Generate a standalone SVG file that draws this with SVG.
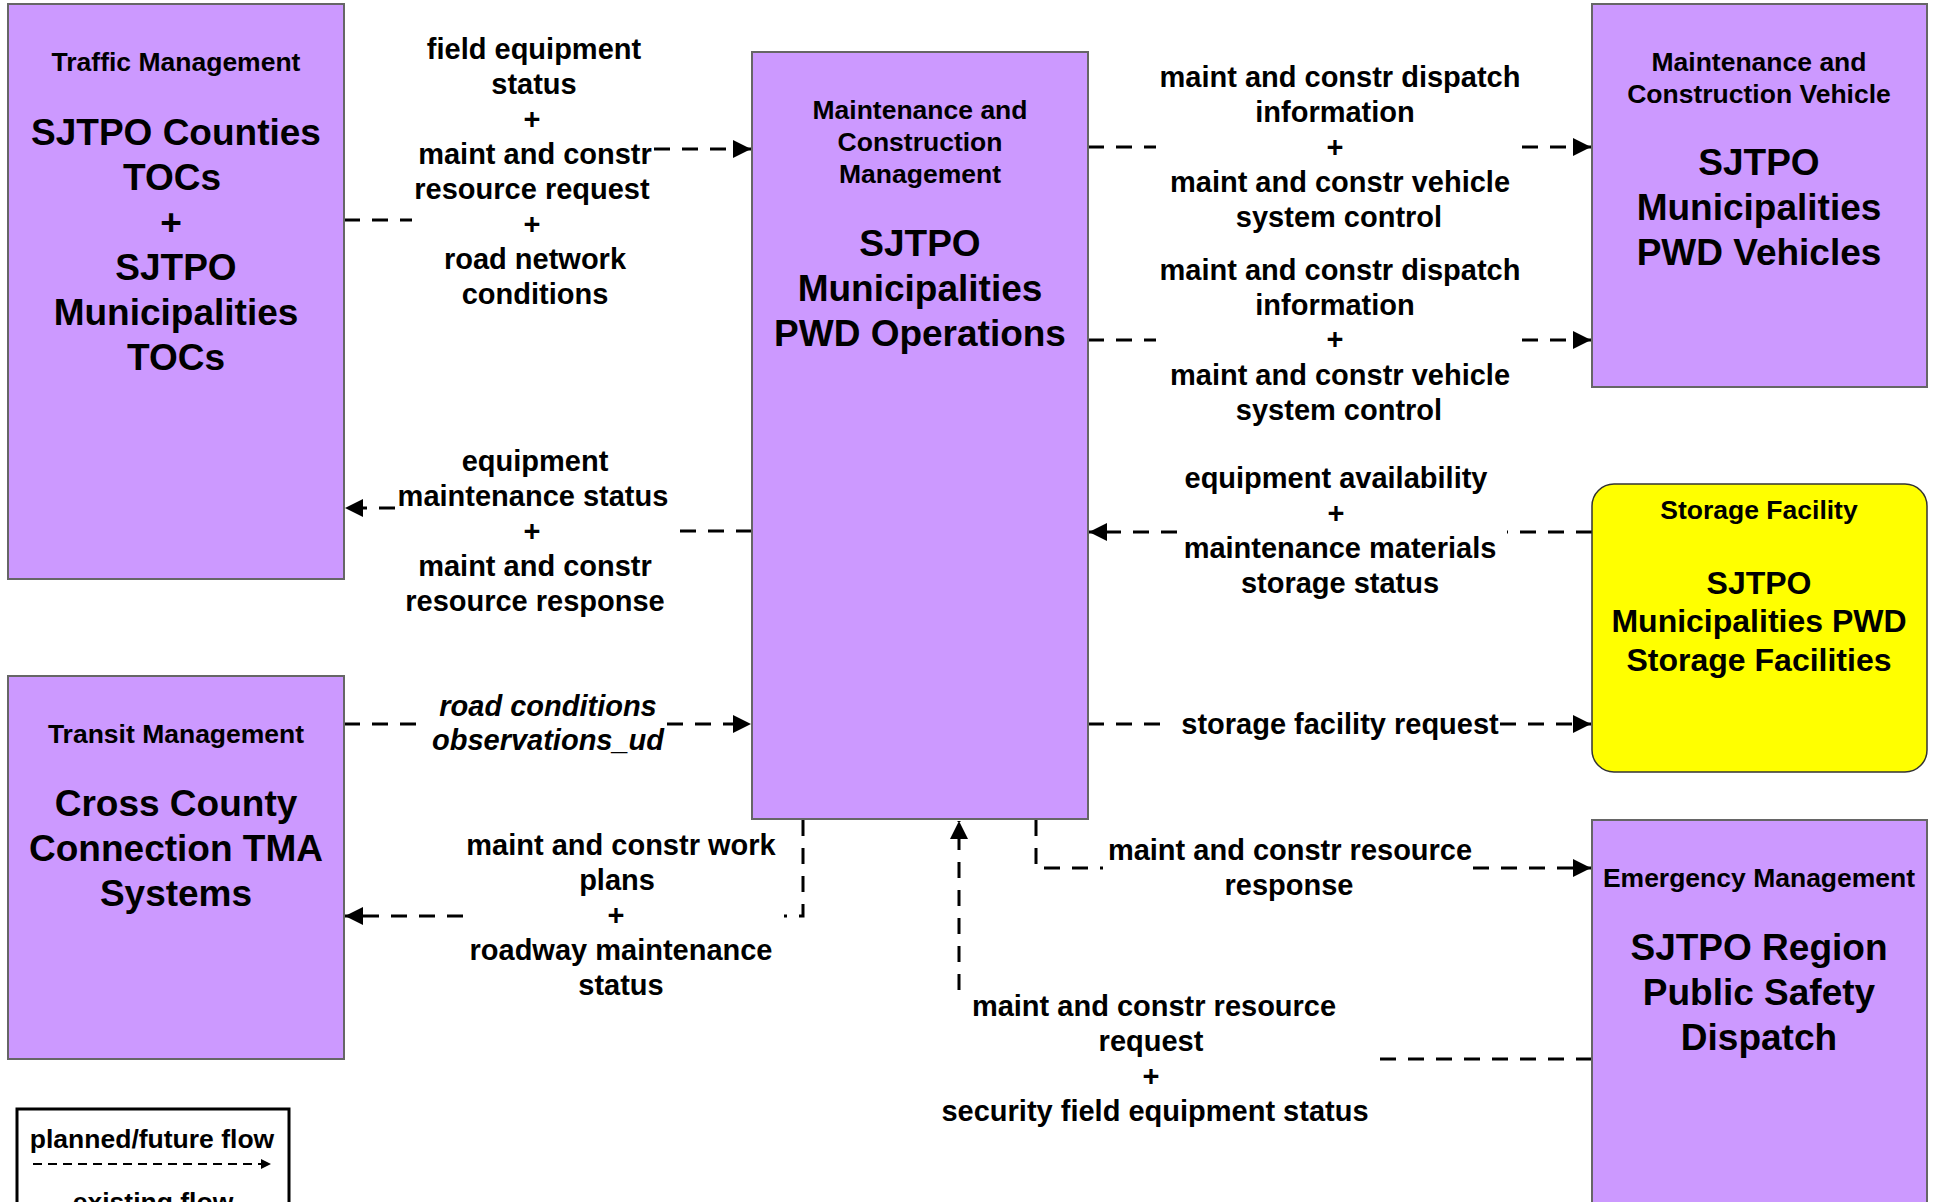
<svg xmlns="http://www.w3.org/2000/svg" width="1937" height="1202" viewBox="0 0 1937 1202">
<style>
.node{fill:#CC99FF;stroke:#666666;stroke-width:2}
.storage{fill:#FFFF00;stroke:#333333;stroke-width:1.5}
.t{font-family:"Liberation Sans",Arial,sans-serif;font-weight:bold;text-anchor:middle;fill:#000}
.sub{font-size:26.5px}
.big{font-size:37px}
.mid{font-size:32px}
.lbl{font-size:29px}
.it{font-style:italic}
.flow{fill:none;stroke:#000;stroke-width:3;stroke-dasharray:16 12}
.legflow{fill:none;stroke:#000;stroke-width:2;stroke-dasharray:9 6}
</style>
<defs>
<marker id="arr" markerUnits="userSpaceOnUse" markerWidth="18" markerHeight="18" refX="18" refY="9" orient="auto">
<path d="M0,0 L18,9 L0,18 Z" fill="#000"/>
</marker>
<marker id="sarr" markerUnits="userSpaceOnUse" markerWidth="10" markerHeight="10" refX="10" refY="5" orient="auto">
<path d="M0,0 L10,5 L0,10 Z" fill="#000"/>
</marker>
</defs>
<rect width="1937" height="1202" fill="#fff"/>

<g id="connectors">
<path class="flow" marker-end="url(#arr)" d="M344,220 H412 M654,149 H751"/>
<path class="flow" marker-end="url(#arr)" d="M752,531 H676 M395,508 H345"/>
<path class="flow" marker-end="url(#arr)" d="M1088,147 H1156 M1522,147 H1591"/>
<path class="flow" marker-end="url(#arr)" d="M1088,340 H1156 M1522,340 H1591"/>
<path class="flow" marker-end="url(#arr)" d="M1592,532 H1507 M1177,532 H1089"/>
<path class="flow" marker-end="url(#arr)" d="M1088,724 H1171 M1500,724 H1591"/>
<path class="flow" marker-end="url(#arr)" d="M344,724 H427 M667,724 H751"/>
<path class="flow" marker-end="url(#arr)" d="M803,820 V916 H784 M463,916 H345"/>
<path class="flow" marker-end="url(#arr)" d="M1036,820 V868 H1103 M1473,868 H1591"/>
<path class="flow" marker-end="url(#arr)" d="M1592,1059 H1380 M959,990 V821"/>
</g>

<g id="labels">
<text class="t lbl" x="534" y="59">field equipment</text>
<text class="t lbl" x="534" y="94">status</text>
<text class="t lbl" x="532" y="129">+</text>
<text class="t lbl" x="535" y="164">maint and constr</text>
<text class="t lbl" x="532" y="199">resource request</text>
<text class="t lbl" x="532" y="234">+</text>
<text class="t lbl" x="535" y="269">road network</text>
<text class="t lbl" x="535" y="304">conditions</text>

<text class="t lbl" x="535" y="471">equipment</text>
<text class="t lbl" x="533" y="506">maintenance status</text>
<text class="t lbl" x="532" y="541">+</text>
<text class="t lbl" x="535" y="576">maint and constr</text>
<text class="t lbl" x="535" y="611">resource response</text>

<text class="t lbl" x="1340" y="87">maint and constr dispatch</text>
<text class="t lbl" x="1335" y="122">information</text>
<text class="t lbl" x="1335" y="157">+</text>
<text class="t lbl" x="1340" y="192">maint and constr vehicle</text>
<text class="t lbl" x="1339" y="227">system control</text>

<text class="t lbl" x="1340" y="280">maint and constr dispatch</text>
<text class="t lbl" x="1335" y="315">information</text>
<text class="t lbl" x="1335" y="349">+</text>
<text class="t lbl" x="1340" y="385">maint and constr vehicle</text>
<text class="t lbl" x="1339" y="420">system control</text>

<text class="t lbl" x="1336" y="488">equipment availability</text>
<text class="t lbl" x="1336" y="523">+</text>
<text class="t lbl" x="1340" y="558">maintenance materials</text>
<text class="t lbl" x="1340" y="593">storage status</text>

<text class="t lbl" x="1340" y="734">storage facility request</text>

<text class="t lbl it" x="548" y="716">road conditions</text>
<text class="t lbl it" x="548" y="750">observations_ud</text>

<text class="t lbl" x="621" y="855">maint and constr work</text>
<text class="t lbl" x="617" y="890">plans</text>
<text class="t lbl" x="616" y="925">+</text>
<text class="t lbl" x="621" y="960">roadway maintenance</text>
<text class="t lbl" x="621" y="995">status</text>

<text class="t lbl" x="1290" y="860">maint and constr resource</text>
<text class="t lbl" x="1289" y="895">response</text>

<text class="t lbl" x="1154" y="1016">maint and constr resource</text>
<text class="t lbl" x="1151" y="1051">request</text>
<text class="t lbl" x="1151" y="1086">+</text>
<text class="t lbl" x="1155" y="1121">security field equipment status</text>
</g>

<g id="traffic-management">
<rect class="node" x="8" y="4" width="336" height="575"/>
<text class="t sub" x="176" y="71">Traffic Management</text>
<text class="t big" x="176" y="145">SJTPO Counties</text>
<text class="t big" x="172" y="190">TOCs</text>
<text class="t big" x="171" y="235">+</text>
<text class="t big" x="176" y="280">SJTPO</text>
<text class="t big" x="176" y="325">Municipalities</text>
<text class="t big" x="176" y="370">TOCs</text>
</g>

<g id="mc-management">
<rect class="node" x="752" y="52" width="336" height="767"/>
<text class="t sub" x="920" y="119">Maintenance and</text>
<text class="t sub" x="920" y="151">Construction</text>
<text class="t sub" x="920" y="183">Management</text>
<text class="t big" x="920" y="256">SJTPO</text>
<text class="t big" x="920" y="301">Municipalities</text>
<text class="t big" x="920" y="346">PWD Operations</text>
</g>

<g id="mc-vehicle">
<rect class="node" x="1592" y="4" width="335" height="383"/>
<text class="t sub" x="1759" y="71">Maintenance and</text>
<text class="t sub" x="1759" y="103">Construction Vehicle</text>
<text class="t big" x="1759" y="175">SJTPO</text>
<text class="t big" x="1759" y="220">Municipalities</text>
<text class="t big" x="1759" y="265">PWD Vehicles</text>
</g>

<g id="storage-facility">
<rect class="storage" x="1592" y="484" width="335" height="288" rx="22" ry="22"/>
<text class="t sub" x="1759" y="519">Storage Facility</text>
<text class="t mid" x="1759" y="594">SJTPO</text>
<text class="t mid" x="1759" y="632">Municipalities PWD</text>
<text class="t mid" x="1759" y="671">Storage Facilities</text>
</g>

<g id="transit-management">
<rect class="node" x="8" y="676" width="336" height="383"/>
<text class="t sub" x="176" y="743">Transit Management</text>
<text class="t big" x="176" y="816">Cross County</text>
<text class="t big" x="176" y="861">Connection TMA</text>
<text class="t big" x="176" y="906">Systems</text>
</g>

<g id="emergency-management">
<rect class="node" x="1592" y="820" width="335" height="400"/>
<text class="t sub" x="1759" y="887">Emergency Management</text>
<text class="t big" x="1759" y="960">SJTPO Region</text>
<text class="t big" x="1759" y="1005">Public Safety</text>
<text class="t big" x="1759" y="1050">Dispatch</text>
</g>

<g id="legend">
<rect x="17" y="1109" width="272" height="130" fill="#fff" stroke="#000" stroke-width="3"/>
<text class="t sub" x="152" y="1148">planned/future flow</text>
<path class="legflow" marker-end="url(#sarr)" d="M33,1164 H271"/>
<text class="t sub" x="153" y="1211">existing flow</text>
</g>
</svg>
